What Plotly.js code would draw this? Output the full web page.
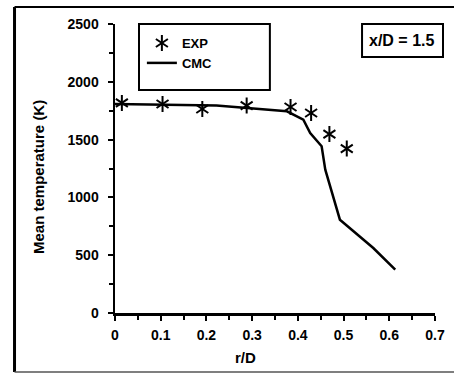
<!DOCTYPE html>
<html>
<head>
<meta charset="utf-8">
<script src="https://cdn.plot.ly/plotly-3.0.1.min.js"></script>
<style>html,body{margin:0;padding:0;background:#fff;}#chart{width:454px;height:374px;}</style>
</head>
<body>
<div id="chart"></div>
<script>
// Data
var cmcR = [0, 0.222, 0.376, 0.412, 0.427, 0.452, 0.46, 0.492, 0.565, 0.613];
var cmcT = [1808, 1796, 1745, 1672, 1557, 1442, 1240, 807, 562, 375];
var expR = [0.015, 0.104, 0.191, 0.288, 0.384, 0.429, 0.469, 0.507];
var expT = [1817, 1808, 1765, 1794, 1782, 1730, 1548, 1422];
var xTickVals = [0, 0.1, 0.2, 0.3, 0.4, 0.5, 0.6, 0.7];
var yTickVals = [0, 500, 1000, 1500, 2000, 2500];

var FONT = 'Liberation Sans, Arial, sans-serif';

var traces = [
  {x: expR, y: expT, type: 'scatter', mode: 'markers', name: 'EXP',
   marker: {symbol: 'y-up-open', size: 10, color: 'black', line: {color: 'black', width: 2}},
   legend: 'legend', cliponaxis: false},
  {x: cmcR, y: cmcT, type: 'scatter', mode: 'lines', name: 'CMC',
   line: {color: 'black', width: 2.5}, legend: 'legend'},
  {x: expR, y: expT, type: 'scatter', mode: 'markers', name: 'EXP',
   marker: {symbol: 'y-down-open', size: 10, color: 'black', line: {color: 'black', width: 2}},
   legend: 'legend2', cliponaxis: false}
];

var layout = {
  width: 454, height: 374,
  margin: {l: 115, r: 19, t: 24, b: 61},
  paper_bgcolor: 'white', plot_bgcolor: 'white',
  font: {family: FONT, color: 'black', size: 14, weight: 'bold'},
  showlegend: true,
  legend: {x: 0.084, y: 0.986, xanchor: 'left', yanchor: 'top', bgcolor: 'rgba(0,0,0,0)',
           borderwidth: 0, font: {family: FONT, size: 13, weight: 'bold', color: 'black'},
           tracegroupgap: 0},
  legend2: {x: 0.084, y: 0.986, xanchor: 'left', yanchor: 'top', bgcolor: 'rgba(0,0,0,0)',
           borderwidth: 0, font: {family: FONT, size: 13, weight: 'bold', color: 'rgba(0,0,0,0)'}},
  xaxis: {range: [0, 0.7], tickvals: xTickVals, ticks: 'outside', ticklen: 5, tickwidth: 2,
          tickcolor: 'black', showline: true, linecolor: 'black', linewidth: 2.5,
          showgrid: false, zeroline: false, ticklabelstandoff: 3,
          tickfont: {family: FONT, size: 14, weight: 'bold', color: 'black'},
          minor: {dtick: 0.05, tick0: 0, ticks: 'outside', ticklen: 4, tickwidth: 2, tickcolor: 'black', showgrid: false},
          fixedrange: true},
  yaxis: {range: [0, 2500], tickvals: yTickVals, ticks: 'outside', ticklen: 5, tickwidth: 2,
          tickcolor: 'black', showline: true, linecolor: 'black', linewidth: 2.5,
          showgrid: false, zeroline: false, ticklabelstandoff: 6,
          tickfont: {family: FONT, size: 14, weight: 'bold', color: 'black'},
          minor: {dtick: 250, tick0: 0, ticks: 'outside', ticklen: 4, tickwidth: 2, tickcolor: 'black', showgrid: false},
          fixedrange: true},
  annotations: [
    {text: 'Mean temperature (K)', xref: 'paper', yref: 'paper', x: -0.2375, y: 0.4706,
     textangle: -90, showarrow: false, xanchor: 'center', yanchor: 'middle',
     font: {family: FONT, size: 15, weight: 'bold', color: 'black'}},
    {text: 'r/D', xref: 'paper', yref: 'paper', x: 0.409, y: -0.1557,
     showarrow: false, xanchor: 'center', yanchor: 'middle',
     font: {family: FONT, size: 15, weight: 'bold', color: 'black'}},
    {text: 'x/D = 1.5', xref: 'paper', yref: 'paper', x: 0.8945, y: 0.943,
     showarrow: false, xanchor: 'center', yanchor: 'middle',
     font: {family: FONT, size: 16, weight: 'bold', color: 'black'}}
  ],
  shapes: [
    // legend box
    {type: 'rect', xref: 'paper', yref: 'paper', x0: 0.075, x1: 0.484, y0: 0.7716, y1: 1.0,
     line: {color: 'black', width: 2}, fillcolor: 'rgba(0,0,0,0)'},
    // x/D label box
    {type: 'rect', xref: 'paper', yref: 'paper', x0: 0.772, x1: 1.025, y0: 0.886, y1: 1.0,
     line: {color: 'black', width: 2}, fillcolor: 'rgba(0,0,0,0)'},
    // outer frame
    {type: 'line', xref: 'paper', yref: 'paper', x0: -0.314, x1: -0.314, y0: -0.204, y1: 1.0588,
     line: {color: 'black', width: 3}},
    {type: 'line', xref: 'paper', yref: 'paper', x0: -0.314, x1: 1.1, y0: 1.0588, y1: 1.0588,
     line: {color: 'black', width: 2}},
    {type: 'line', xref: 'paper', yref: 'paper', x0: -0.314, x1: 1.1, y0: -0.204, y1: -0.204,
     line: {color: '#555', width: 1.5}}
  ]
};

Plotly.newPlot('chart', traces, layout, {displayModeBar: false, staticPlot: true});
</script>
</body>
</html>
